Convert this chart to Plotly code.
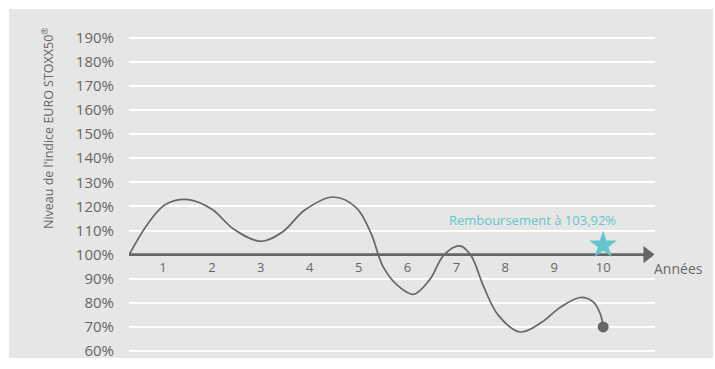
import plotly.graph_objects as go

# Data
years = [1, 2, 3, 4, 5, 6, 7, 8, 9, 10]
year_labels = [str(y) for y in years]
y_ticks = [60, 70, 80, 90, 100, 110, 120, 130, 140, 150, 160, 170, 180, 190]
y_tick_labels = [f"{v}%" for v in y_ticks]

path_x = [0.31, 0.68, 1.05, 1.52, 2.0, 2.45, 3.0, 3.45, 3.9, 4.48, 4.95, 5.25, 5.5,
          5.78, 6.12, 6.45, 6.75, 7.07, 7.3, 7.55, 7.85, 8.3, 8.75, 9.1, 9.53, 9.8,
          9.94, 10.0]
path_y = [100, 112.5, 120.8, 122.8, 118.8, 110.5, 105.5, 109.5, 118.5, 123.9, 119.5,
          109, 95, 87.5, 83.5, 89.5, 100, 103.6, 99.5, 87, 75, 67.9, 72, 77.8, 82.2,
          80.3, 75.5, 70]

end_year = 10
end_value = 70
redemption_year = 10
redemption_value = 103.92
redemption_text = "Remboursement à 103,92%"

x_range = [0.305, 11.06]
y_range = [57.1, 201.9]

GRAY = "#666666"
CYAN = "#62c6cc"
BG = "#e6e6e6"
FONT = "Open Sans"

fig = go.Figure()

# 100% axis line with arrow head
fig.add_trace(go.Scatter(x=[x_range[0], 10.85], y=[100, 100], mode="lines",
                         line=dict(color=GRAY, width=2.6), hoverinfo="skip",
                         showlegend=False))
fig.add_trace(go.Scatter(x=[10.9], y=[100], mode="markers",
                         marker=dict(symbol="triangle-right", size=15, color=GRAY),
                         hoverinfo="skip", showlegend=False))
# curve
fig.add_trace(go.Scatter(x=path_x, y=path_y, mode="lines",
                         line=dict(color=GRAY, width=1.7, shape="spline", smoothing=1.0),
                         hoverinfo="skip", showlegend=False))
# end dot
fig.add_trace(go.Scatter(x=[end_year], y=[end_value], mode="markers",
                         marker=dict(color=GRAY, size=11), showlegend=False))
# star
fig.add_trace(go.Scatter(x=[redemption_year], y=[redemption_value], mode="markers",
                         marker=dict(color=CYAN, size=21, symbol="star"), showlegend=False))
# year labels
fig.add_trace(go.Scatter(x=years, y=[94.3] * len(years), mode="text", text=year_labels,
                         textfont=dict(family=FONT, size=13, color=GRAY),
                         showlegend=False, hoverinfo="skip"))

# background panel
fig.add_shape(type="rect", xref="paper", yref="paper",
              x0=(9 - 129) / 526, x1=(713 - 129) / 526, y0=0, y1=1,
              fillcolor=BG, line=dict(width=0), layer="below")

fig.add_annotation(x=11.0, y=94.3, xref="x", yref="y", text="Années", showarrow=False,
                   xanchor="left", font=dict(family=FONT, size=14, color=GRAY))

fig.add_annotation(x=(532.7 - 114.1) / 48.9, y=114.2, xref="x", yref="y",
                   text=redemption_text, showarrow=False,
                   font=dict(family=FONT, size=13, color=CYAN))

fig.add_annotation(x=(37 - 129) / 526, y=(358 - 128) / 349, xref="paper", yref="paper",
                   text="Niveau de l'indice EURO STOXX50<sup>®</sup>", textangle=-90,
                   showarrow=False, font=dict(family=FONT, size=12.5, color=GRAY))

fig.update_xaxes(range=x_range, showgrid=False, zeroline=False, showticklabels=False,
                 showline=False)
fig.update_yaxes(range=y_range, tickvals=y_ticks, ticktext=y_tick_labels,
                 showgrid=True, gridcolor="white", gridwidth=1.5, zeroline=False,
                 ticks="", ticklabelstandoff=14,
                 tickfont=dict(family=FONT, size=15, color=GRAY))

fig.update_layout(width=715, height=369,
                  margin=dict(l=129, r=60, t=9, b=11),
                  paper_bgcolor="white", plot_bgcolor=BG)

fig.write_html("out.html")
